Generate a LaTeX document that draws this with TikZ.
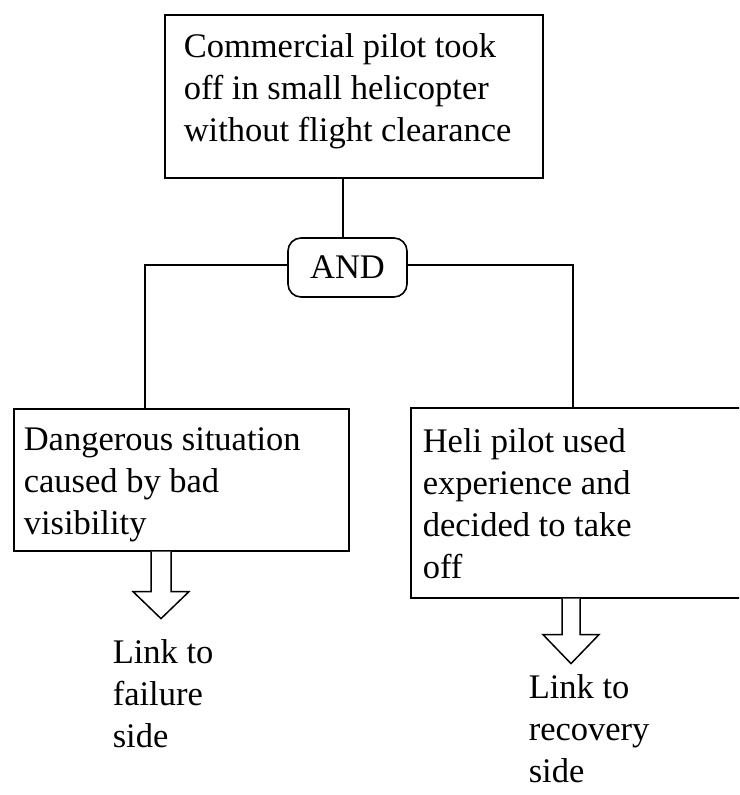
\documentclass[tikz,border=0pt]{standalone}
\usepackage{fontspec}
\setmainfont{Liberation Serif}
\begin{document}
\begin{tikzpicture}[x=1pt,y=-1pt,
  line width=1.6pt,
  box/.style={draw, rectangle, inner sep=0pt, anchor=north west},
  gate/.style={draw, rectangle, rounded corners=13pt, inner sep=0pt,
    minimum width=119pt, minimum height=59pt,
    font=\fontsize{34.5}{42}\selectfont},
  txt/.style={anchor=base west, inner sep=0pt,
    font=\fontsize{34.5}{42}\selectfont},
  hollow/.style={draw, fill=white, line width=1.5pt, line join=miter}]
\useasboundingbox (0,0) rectangle (739,795);
\clip (0,0) rectangle (739,795);

% event boxes
\node[box, minimum width=378pt, minimum height=163pt] (top) at (164,14) {};
\node[box, minimum width=335pt, minimum height=142pt] (left) at (13,408) {};
\node[box, minimum width=340pt, minimum height=190pt] (right) at (410,407) {};

% AND gate
\node[gate] (and) at (347.5,267.5) {AND};

% box texts
\node[txt] (toptext) at (183,57) {\vtop{\hbox{Commercial pilot took}\hbox{off in small helicopter}\hbox{without flight clearance}}};
\node[txt] (lefttext) at (23,450) {\vtop{\hbox{Dangerous situation}\hbox{caused by bad}\hbox{visibility}}};
\node[txt] (righttext) at (422,452) {\vtop{\hbox{Heli pilot used}\hbox{experience and}\hbox{decided to take}\hbox{off}}};

% link notes
\node[txt] (failure) at (112,663) {\vtop{\hbox{Link to}\hbox{failure}\hbox{side}}};
\node[txt] (recovery) at (528,698) {\vtop{\hbox{Link to}\hbox{recovery}\hbox{side}}};

% connectors
\draw (top.south -| 343,0) -- (and.north -| 343,0);
\draw (and.west |- 0,265) -| (left.north -| 145,0);
\draw (and.east |- 0,265) -| (right.north -| 573,0);

% hollow link arrows
\draw[hollow] (left.south -| 151,0) -- ++(0,40) -- ++(-18,0) -- ++(28,27)
  -- ++(28,-27) -- ++(-18,0) -- ++(0,-40);
\draw[hollow] (right.south -| 562,0) -- ++(0,36) -- ++(-19,0) -- ++(28,29)
  -- ++(28,-29) -- ++(-19,0) -- ++(0,-36);
\end{tikzpicture}
\end{document}
